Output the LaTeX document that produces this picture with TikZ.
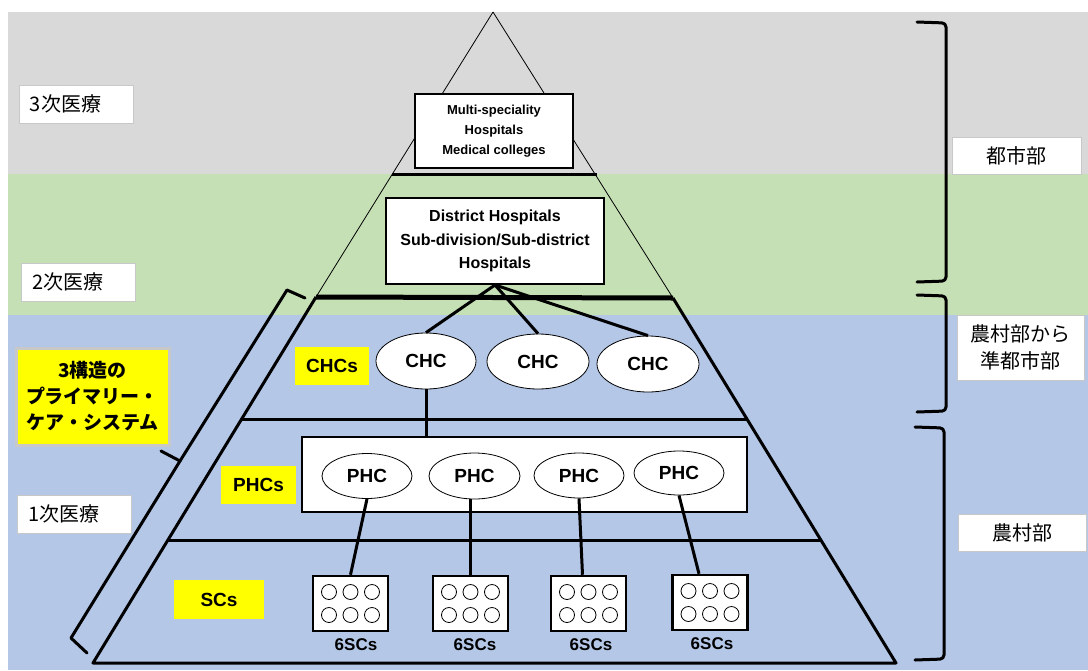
\documentclass[tikz,border=0pt]{standalone}
\usepackage{fontspec}
\setmainfont{Liberation Sans}
\newfontfamily\jp{Noto Sans CJK JP}
\usetikzlibrary{shapes.geometric}
\definecolor{bggray}{HTML}{D9D9D9}
\definecolor{bggreen}{HTML}{C5E0B4}
\definecolor{bgblue}{HTML}{B4C7E7}
\definecolor{lblborder}{HTML}{C8C8C8}
\definecolor{hiyellow}{HTML}{FFFF00}
\begin{document}
\begin{tikzpicture}[x=1pt,y=-1pt,
  jplbl/.style={draw=lblborder, line width=1pt, fill=white, minimum height=38pt, inner sep=0pt,
     font=\jp\fontsize{20}{27}\selectfont, align=center},
  lvl/.style={jplbl, text width=92pt, minimum width=114pt, inner xsep=11pt, align=left},
  ylbl/.style={fill=hiyellow, inner sep=0pt, minimum height=38pt, font=\bfseries\fontsize{19}{22}\selectfont},
  hosp/.style={draw, fill=white, line width=2pt, inner sep=0pt, align=center, font=\bfseries},
  ell/.style={ellipse, draw, fill=white, line width=0.8pt, inner sep=0pt, font=\bfseries\fontsize{19}{22}\selectfont},
  scbox/.style={draw, fill=white, line width=2.5pt, minimum width=75pt, minimum height=55pt, inner sep=0pt},
  sclbl/.style={font=\bfseries\fontsize{17}{20}\selectfont, inner sep=0pt},
  thick3/.style={line width=3pt},
  brk/.style={line width=3pt, line join=round, line cap=round}
]
\useasboundingbox (0,0) rectangle (1088,670);
\fill[white] (0,0) rectangle (1088,670);
\fill[bggray] (8,12) rectangle (1088,174);
\fill[bggreen] (8,174) rectangle (1088,315);
\fill[bgblue] (8,315) rectangle (1088,670);

% pyramid outline
\coordinate (apex) at (493,12);
\coordinate (tl) at (316,297);
\coordinate (tr) at (673,298);
\coordinate (bl) at (93,663);
\coordinate (br) at (896,663);
\draw[line width=0.8pt] (apex) -- (tl);
\draw[line width=0.8pt] (apex) -- (tr);
\coordinate (t3l) at (392,174);
\coordinate (t3r) at (597,174);
\draw[thick3] (t3l) -- (t3r);
\draw[line width=5pt] (tl) -- (tr);
\draw[thick3, line join=round] (tl) -- (bl) -- (br) -- (tr);
\coordinate (h1l) at (242,419);
\coordinate (h1r) at (747,419);
\coordinate (h2l) at (167,540);
\coordinate (h2r) at (820,540);
\draw[thick3] (h1l) -- (h1r);
\draw[thick3] (h2l) -- (h2r);

% hospitals
\node[hosp, minimum width=158pt, minimum height=74pt, font=\bfseries\fontsize{13}{20}\selectfont] (multi) at (494,131)
  {Multi-speciality\\Hospitals\\Medical colleges};
\node[hosp, minimum width=218pt, minimum height=86pt, font=\bfseries\fontsize{16}{23.5}\selectfont] (dist) at (495,241)
  {District Hospitals\\Sub-division/Sub-district\\Hospitals};

% CHCs
\node[ell, minimum width=100pt, minimum height=56pt] (chc1) at (426,361) {CHC};
\node[ell, minimum width=102pt, minimum height=55pt] (chc2) at (538,361.5) {CHC};
\node[ell, minimum width=102pt, minimum height=56pt] (chc3) at (648,364) {CHC};
\draw[thick3] (dist.south) -- (chc1.north);
\draw[thick3] (dist.south) -- (chc2.north);
\draw[thick3] (dist.south) -- (chc3.north);

% PHC box
\node[draw, fill=white, line width=2.5pt, minimum width=445pt, minimum height=75pt, inner sep=0pt] (phcbox) at (524.5,474.5) {};
\draw[thick3] (chc1.south) -- (chc1.south |- phcbox.north);
\node[ell, minimum width=90pt, minimum height=45pt] (phc1) at (367,476) {PHC};
\node[ell, minimum width=91pt, minimum height=46pt] (phc2) at (474.5,476) {PHC};
\node[ell, minimum width=90pt, minimum height=45pt] (phc3) at (579,475.5) {PHC};
\node[ell, minimum width=90pt, minimum height=44pt] (phc4) at (679,473) {PHC};

% SC boxes
\node[scbox] (sc1) at (350.5,603.5) {};
\node[scbox] (sc2) at (470.5,603.5) {};
\node[scbox] (sc3) at (588.5,603.5) {};
\node[scbox] (sc4) at (710,602.5) {};
\foreach \s in {sc1,sc2,sc3,sc4}{
  \foreach \dx in {-21.5,0,21.5}{
    \foreach \dy in {-11.5,11.5}{
      \draw[line width=0.8pt] ([shift={(\dx,\dy)}]\s.center) circle (7.5pt);
    }
  }
}
\node[sclbl] (l1) at (356,645) {6SCs};
\node[sclbl] (l2) at (475,645) {6SCs};
\node[sclbl] (l3) at (591,645) {6SCs};
\node[sclbl] (l4) at (712,644) {6SCs};

\draw[thick3] (phc1.south) -- (sc1.north);
\draw[thick3] (sc2.north) -- (sc2.north |- phc2.south);
\draw[thick3] (phc3.south) -- ([xshift=-6pt]sc3.north);
\draw[thick3] (phc4.south) -- ([xshift=-11pt]sc4.north);

% yellow labels
\node[ylbl, minimum width=74pt] (chcs) at (332,366) {CHCs};
\node[ylbl, minimum width=75pt] (phcs) at (258.5,485) {PHCs};
\node[ylbl, minimum width=90pt, minimum height=39pt] (scs) at (219,599.5) {SCs};
\node[fill=hiyellow, draw=lblborder, line width=3pt, minimum width=153pt, minimum height=97pt, inner sep=0pt,
  align=center, font=\jp\bfseries\fontsize{19}{26}\selectfont] (pcs) at (92.5,396.5)
  {3構造の\\プライマリー・\\ケア・システム};

% level labels
\node[lvl] (lv3) at (76,104) {3次医療};
\node[lvl] (lv2) at (78,282) {2次医療};
\node[lvl] (lv1) at (74,514) {1次医療};

% right labels
\node[jplbl, minimum width=129pt, minimum height=37pt] (urban) at (1016.5,155.5) {都市部};
\node[jplbl, minimum width=127pt, minimum height=65pt] (semi) at (1020.5,347.5) {農村部から\\準都市部};
\node[jplbl, minimum width=128pt, minimum height=37pt] (rural) at (1022,532.5) {農村部};

% right brackets
\coordinate (b1a) at (917,22);  \coordinate (b1b) at (946,23);
\coordinate (b1c) at (946,281); \coordinate (b1d) at (917,282);
\draw[brk, rounded corners=4pt] (b1a) -- (b1b) -- (b1c) -- (b1d);
\coordinate (b2a) at (917,295); \coordinate (b2b) at (946,296);
\coordinate (b2c) at (946,411); \coordinate (b2d) at (917,412);
\draw[brk, rounded corners=4pt] (b2a) -- (b2b) -- (b2c) -- (b2d);
\coordinate (b3a) at (915,427); \coordinate (b3b) at (944,428);
\coordinate (b3c) at (944,659); \coordinate (b3d) at (915,660);
\draw[brk, rounded corners=4pt] (b3a) -- (b3b) -- (b3c) -- (b3d);

% left slanted bracket
\coordinate (lb1) at (305,298);
\coordinate (lb2) at (287,290);
\coordinate (lbm) at (180,461);
\coordinate (lbt) at (161,451);
\coordinate (lb3) at (71,638);
\coordinate (lb4) at (87,653);
\draw[brk] (lb1) -- (lb2) -- (lbm) -- (lb3) -- (lb4);
\draw[brk] (lbm) -- (lbt);
\end{tikzpicture}
\end{document}
